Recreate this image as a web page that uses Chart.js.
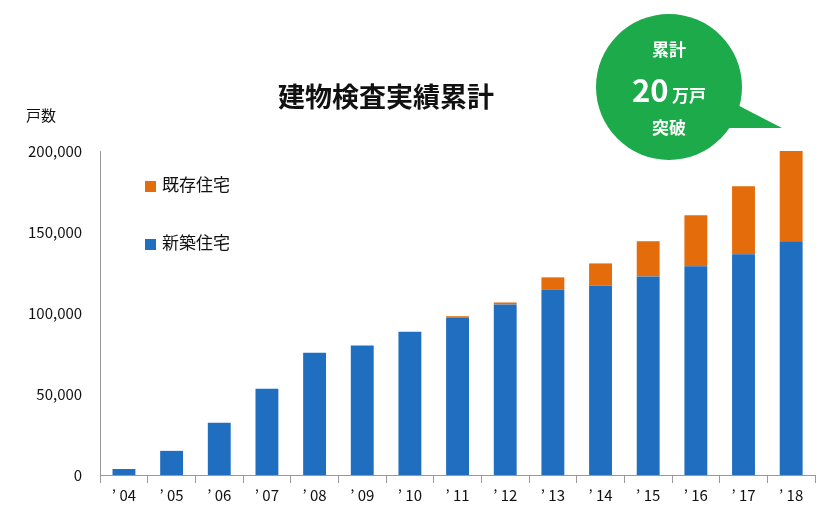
<!DOCTYPE html>
<html><head><meta charset="utf-8">
<script src="https://cdn.jsdelivr.net/npm/chart.js@4"></script>
<style>
body{margin:0;background:#fff;font-family:"Noto Sans CJK JP","Noto Sans",sans-serif;}
#wrap{position:relative;width:840px;height:531px;}
.t{position:absolute;color:#111;}
#badge{position:absolute;left:596px;top:14px;width:146px;height:146px;border-radius:50%;background:#1daa4a;color:#fff;text-align:center;}
#tail{position:absolute;left:720px;top:96px;width:0;height:0;border-top:32px solid transparent;border-left:62px solid #1daa4a;}
.sw{display:inline-block;width:11px;height:11px;margin-right:6px;vertical-align:middle}
</style></head><body>
<div id="wrap">
<canvas id="c" width="840" height="531"></canvas>
<div class="t" style="left:278px;top:76px;font-size:27px;font-weight:bold;">建物検査実績累計</div>
<div class="t" style="left:26px;top:104px;font-size:15px;">戸数</div>
<div class="t" style="left:145px;top:171px;font-size:17px;"><span class="sw" style="background:#E46C0A"></span>既存住宅</div>
<div class="t" style="left:145px;top:229px;font-size:17px;"><span class="sw" style="background:#1F6EBF"></span>新築住宅</div>
<div id="tail"></div>
<div id="badge">
 <div style="position:absolute;top:22px;width:100%;font-size:17px;font-weight:bold;">累計</div>
 <div style="position:absolute;top:52px;width:100%;"><span style="font-size:31px;font-weight:bold;">20</span> <span style="font-size:17px;font-weight:bold;">万戸</span></div>
 <div style="position:absolute;top:100px;width:100%;font-size:17px;font-weight:bold;">突破</div>
</div>
</div>
<script>
const categories=["’ 04","’ 05","’ 06","’ 07","’ 08","’ 09","’ 10","’ 11","’ 12","’ 13","’ 14","’ 15","’ 16","’ 17","’ 18"];
const newHomes=[3700,14900,32200,53300,75500,79900,88500,97200,105300,114500,117000,122600,128800,136200,144300];
const existingHomes=[0,0,0,0,0,0,0,800,1200,7500,13600,21700,31600,42100,56300];
const yTicks=[0,50000,100000,150000,200000];
new Chart(document.getElementById('c'),{
 type:'bar',
 data:{labels:categories,datasets:[
  {label:'新築住宅',data:newHomes,backgroundColor:'#1F6EBF',barPercentage:0.48,categoryPercentage:1},
  {label:'既存住宅',data:existingHomes,backgroundColor:'#E46C0A',barPercentage:0.48,categoryPercentage:1}]},
 options:{responsive:false,animation:false,
  layout:{padding:{top:151,right:25,left:18,bottom:24}},
  plugins:{legend:{display:false},tooltip:{enabled:false}},
  scales:{
   x:{stacked:true,grid:{display:true,drawOnChartArea:false,offset:true,color:'#999',tickLength:8},border:{color:'#999'},
      ticks:{color:'#111',font:{size:15,family:'"Noto Sans CJK JP"'}}},
   y:{stacked:true,min:0,max:200000,grid:{display:false},border:{color:'#999'},
      afterBuildTicks:a=>{a.ticks=yTicks.map(v=>({value:v}));},
      ticks:{color:'#111',padding:10,font:{size:15,family:'"Noto Sans CJK JP"'},callback:v=>v.toLocaleString('en-US')}}
  }}
});
</script>
</body></html>
